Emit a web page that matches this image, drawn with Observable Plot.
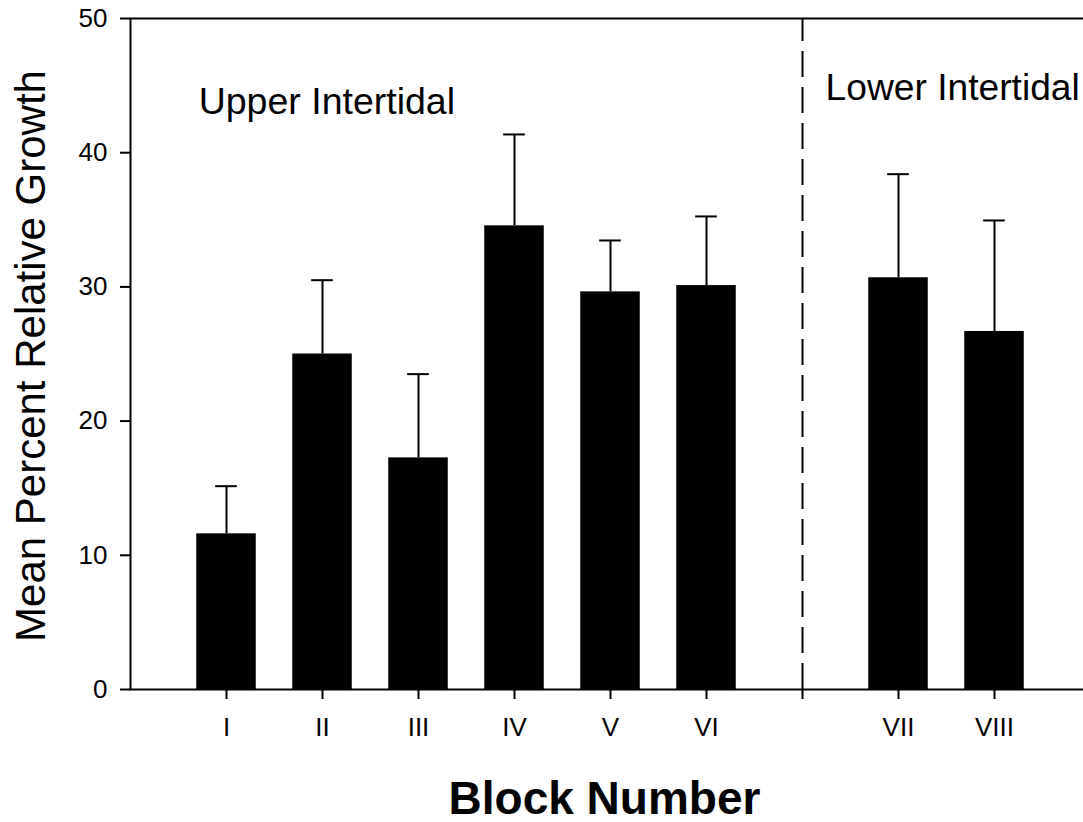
<!DOCTYPE html>
<html>
<head>
<meta charset="utf-8">
<script src="https://cdn.jsdelivr.net/npm/d3@7"></script>
<script src="https://cdn.jsdelivr.net/npm/@observablehq/plot@0.6"></script>
<style>
  html, body { margin: 0; padding: 0; background: #fff; }
  #chart svg { display: block; }
</style>
</head>
<body>
<div id="chart"></div>
<script>
// ---- data ----
const blocks = ["I", "II", "III", "IV", "V", "VI", "VII", "VIII"];
const positions = [1, 2, 3, 4, 5, 6, 8, 9];
const means = [11.6, 25.0, 17.26, 34.55, 29.63, 30.1, 30.68, 26.68];
const stdErr = [3.55, 5.5, 6.24, 6.81, 3.83, 5.15, 7.72, 8.27];
const yTicks = [0, 10, 20, 30, 40, 50];
const xTicks = [1, 2, 3, 4, 5, 6, 7, 8, 9];
const dividerAt = [7];
const zoneLabels = ["Upper Intertidal", "Lower Intertidal"];
const yTitle = "Mean Percent Relative Growth";
const xTitle = "Block Number";

const data = blocks.map((b, i) => ({block: b, pos: positions[i], mean: means[i], se: stdErr[i]}));

const font = "'Liberation Sans', Arial, Helvetica, sans-serif";
const halfBar = 0.31;
const halfCap = 0.113;

const chart = Plot.plot({
  width: 1083,
  height: 822,
  marginLeft: 130,
  marginRight: 0,
  marginTop: 18,
  marginBottom: 133,
  x: {domain: [0, 10], range: [130, 1090]},
  y: {domain: [0, 50], range: [689, 18]},
  style: {fontFamily: font, color: "black", background: "white", overflow: "visible"},
  marks: [
    Plot.rectY(data, {x1: d => d.pos - halfBar, x2: d => d.pos + halfBar, y1: 0, y2: "mean", fill: "black"}),
    Plot.ruleX(data, {x: "pos", y1: "mean", y2: d => d.mean + d.se, stroke: "black", strokeWidth: 2}),
    Plot.ruleY(data, {y: d => d.mean + d.se, x1: d => d.pos - halfCap, x2: d => d.pos + halfCap, stroke: "black", strokeWidth: 2}),
    Plot.ruleX(dividerAt, {x: d => d, y1: 0, y2: 50, stroke: "black", strokeWidth: 2, strokeDasharray: "26,10"}),
    Plot.ruleY([0, 50], {y: d => d, x1: -0.01, x2: 10, stroke: "black", strokeWidth: 2}),
    Plot.ruleX([0], {x: d => d, y1: 0, y2: 50, stroke: "black", strokeWidth: 2}),
    Plot.axisY({ticks: yTicks, tickSize: 10, tickFormat: () => "", label: null, strokeWidth: 2}),
    Plot.axisX({ticks: xTicks, tickSize: 10, tickFormat: () => "", label: null, strokeWidth: 2}),
    Plot.text(yTicks, {x: 0, y: d => d, text: d => String(d), dx: -23, textAnchor: "end", lineAnchor: "middle", fontSize: 26}),
    Plot.text(data, {x: "pos", y: 0, text: "block", dy: 28.5, textAnchor: "middle", lineAnchor: "top", fontSize: 26}),
    Plot.text([zoneLabels[0]], {x: 0.71, y: 42.9, text: d => d, textAnchor: "start", lineAnchor: "bottom", fontSize: 37.5}),
    Plot.text([zoneLabels[1]], {x: 7.24, y: 43.9, text: d => d, textAnchor: "start", lineAnchor: "bottom", fontSize: 37.2}),
    Plot.text([yTitle], {frameAnchor: "left", text: d => d, rotate: -90, dx: -99, dy: 2, textAnchor: "middle", lineAnchor: "middle", fontSize: 42}),
    Plot.text([xTitle], {frameAnchor: "bottom", text: d => d, dx: -2.5, dy: 124, textAnchor: "middle", lineAnchor: "bottom", fontSize: 46, fontWeight: "bold"})
  ]
});
document.getElementById("chart").appendChild(chart);
</script>
</body>
</html>
